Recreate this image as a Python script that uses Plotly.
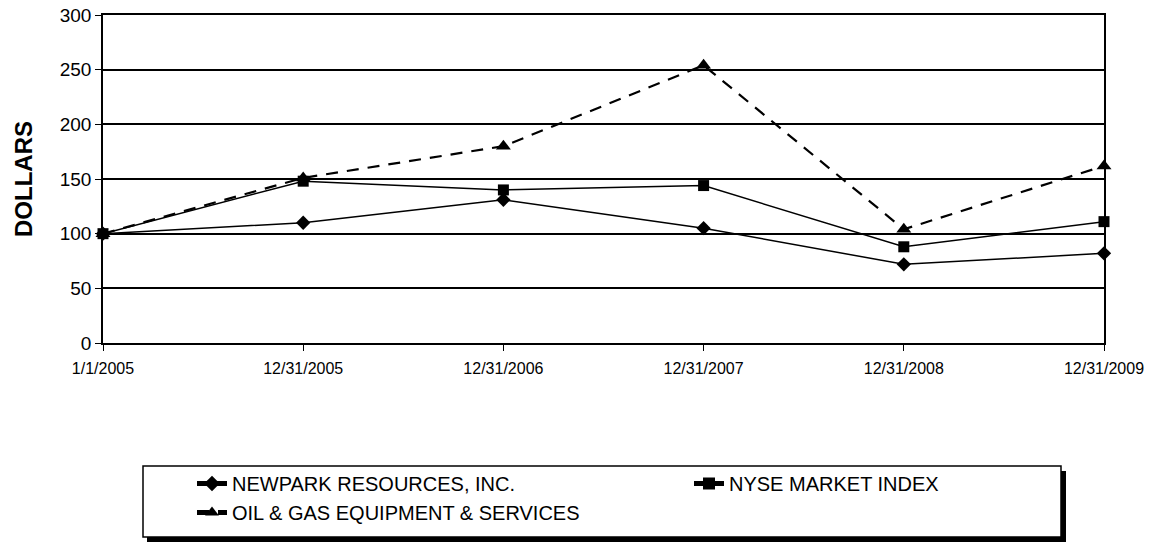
import plotly.graph_objects as go

dates = ["1/1/2005", "12/31/2005", "12/31/2006", "12/31/2007", "12/31/2008", "12/31/2009"]
newpark = [100, 110, 131, 105, 72, 82]
nyse = [100, 148, 140, 144, 88, 111]
oilgas = [100, 151, 180, 254, 104, 162]
y_ticks = [0, 50, 100, 150, 200, 250, 300]

W, H = 1157, 542
ML, MR, MT, MB = 103, 53, 15, 199
PW = W - ML - MR
PH = H - MT - MB


def px_x(p):
    return (p - ML) / PW


def px_y(p):
    return (H - MB - p) / PH


xs = list(range(len(dates)))
font = "Liberation Sans, Arial, sans-serif"

fig = go.Figure()
fig.add_trace(go.Scatter(
    x=xs, y=newpark, name="NEWPARK RESOURCES, INC.", mode="lines+markers",
    line=dict(color="black", width=1.5),
    marker=dict(symbol="diamond", size=11, color="black"), cliponaxis=False))
fig.add_trace(go.Scatter(
    x=xs, y=nyse, name="NYSE MARKET INDEX", mode="lines+markers",
    line=dict(color="black", width=1.5),
    marker=dict(symbol="square", size=11, color="black"), cliponaxis=False))
fig.add_trace(go.Scatter(
    x=xs, y=oilgas, name="OIL & GAS EQUIPMENT & SERVICES", mode="lines+markers",
    line=dict(color="black", width=2.2, dash="12px,9px"),
    marker=dict(symbol="triangle-up", size=13, color="black"), cliponaxis=False))

# legend frame with drop shadow
fig.add_shape(type="rect", xref="paper", yref="paper", layer="above",
              x0=px_x(147), x1=px_x(1066), y0=px_y(542), y1=px_y(471),
              fillcolor="black", line=dict(width=0))
fig.add_shape(type="rect", xref="paper", yref="paper", layer="above",
              x0=px_x(143), x1=px_x(1061), y0=px_y(537), y1=px_y(466),
              fillcolor="white", line=dict(color="black", width=1.5))

fig.update_layout(
    width=W, height=H,
    margin=dict(l=ML, r=MR, t=MT, b=MB, pad=0, autoexpand=False),
    paper_bgcolor="white", plot_bgcolor="white",
    font=dict(family=font, color="black"),
    showlegend=True,
    legend=dict(
        orientation="h", x=px_x(192), y=px_y(464), xanchor="left", yanchor="top",
        font=dict(size=20, family=font, color="black"),
        entrywidth=452, bgcolor="rgba(0,0,0,0)", borderwidth=0,
        itemsizing="constant",
    ),
    xaxis=dict(
        range=[0, 5], tickvals=xs, ticktext=dates, showgrid=False, zeroline=False,
        showline=True, linecolor="black", linewidth=1.5, mirror=True,
        ticks="outside", ticklen=6, tickcolor="black", tickwidth=1,
        tickfont=dict(size=16, family=font, color="black"), ticklabelstandoff=4,
    ),
    yaxis=dict(
        range=[0, 300], tickvals=y_ticks, showgrid=True, gridcolor="black", gridwidth=2,
        zeroline=False, showline=True, linecolor="black", linewidth=1.5, mirror=True,
        ticks="outside", ticklen=6, tickcolor="black", tickwidth=1,
        tickfont=dict(size=19, family=font, color="black"),
        title=dict(text="<b>DOLLARS</b>", font=dict(size=24, family=font, color="black"), standoff=20),
    ),
)

fig.write_html("out.html")
